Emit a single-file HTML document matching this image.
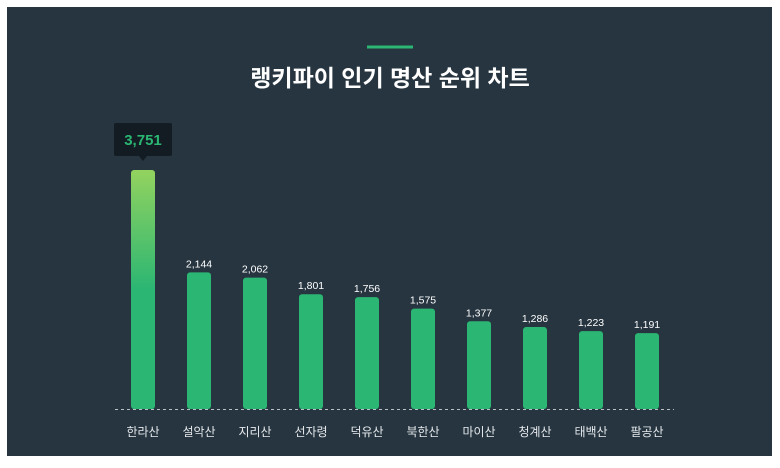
<!DOCTYPE html>
<html><head><meta charset="utf-8"><style>
html,body{margin:0;padding:0;background:#fff;}
body{width:780px;height:468px;position:relative;overflow:hidden;font-family:"Liberation Sans","Noto Sans CJK KR",sans-serif;}
#panel{position:absolute;left:7px;top:7px;width:765px;height:449px;background:#263540;}
</style></head><body>
<div id="panel"></div>
<svg id="chart" width="780" height="468" style="position:absolute;left:0;top:0">
  <rect x="367" y="45.5" width="46" height="3" fill="#2bb673"/>
  <text x="390" y="86" text-anchor="middle" fill="#fff" font-size="23" font-weight="bold" font-family="Liberation Sans, Noto Sans CJK KR, sans-serif">랭키파이 인기 명산 순위 차트</text>
  <defs><linearGradient id="g1" x1="0" y1="0" x2="0" y2="1"><stop offset="0" stop-color="#93d35f"/><stop offset="0.5" stop-color="#2bb673"/><stop offset="1" stop-color="#2bb673"/></linearGradient></defs>
  <g id="bars"></g>
  <line x1="115" y1="409.5" x2="674" y2="409.5" stroke="#b8c0c6" stroke-width="1" stroke-dasharray="3,3"/>
</svg>
<script>
const categories=["한라산","설악산","지리산","선자령","덕유산","북한산","마이산","청계산","태백산","팔공산"];
const values=[3751,2144,2062,1801,1756,1575,1377,1286,1223,1191];
const labels=["3,751","2,144","2,062","1,801","1,756","1,575","1,377","1,286","1,223","1,191"];
const NS="http://www.w3.org/2000/svg";
const g=document.getElementById('bars');
const base=409, maxH=239, maxV=Math.max(...values);
const x=i=>143+i*56;
const y=v=>base-v*maxH/maxV;
function mk(t,a){const e=document.createElementNS(NS,t);for(const k in a)e.setAttribute(k,a[k]);g.appendChild(e);return e;}
values.forEach((v,i)=>{
  const top=y(v);
  const r=mk('rect',{x:x(i)-12,y:top,width:24,height:base-top,rx:3,fill:i===0?'url(#g1)':'#2bb673'});
  
  
  const c=mk('text',{x:x(i),y:431+5,'text-anchor':'middle',fill:'#e6eaed','font-size':12});
  c.textContent=categories[i];
  
  
  if(i===0){
    const b=mk('rect',{x:x(i)-29,y:top-47,width:58,height:33,rx:2,fill:'#121c22'});
    
    
    const p=mk('polygon',{points:`${x(i)-4},${top-14} ${x(i)+4},${top-14} ${x(i)},${top-9}`,fill:'#121c22'});
    
    
    const t=mk('text',{x:x(i),y:top-25,'text-anchor':'middle',fill:'#2bb673','font-size':15,'font-weight':'bold'});
    t.textContent=labels[i];
    
    
  } else {
    const t=mk('text',{x:x(i),y:top-5,'text-anchor':'middle',fill:'#fff','font-size':10.5});
    t.textContent=labels[i];
    
    
  }
});
</script>
</body></html>
